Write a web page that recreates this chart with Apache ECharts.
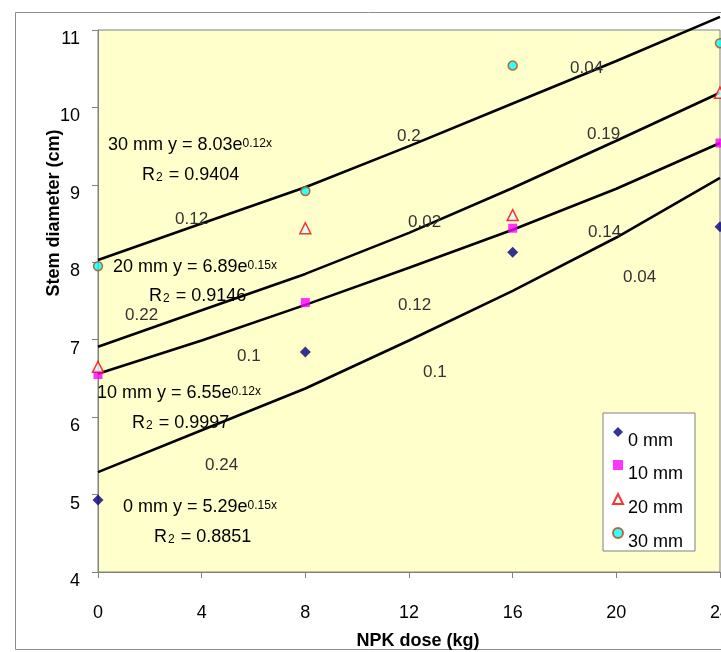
<!DOCTYPE html>
<html>
<head>
<meta charset="utf-8">
<script src="https://cdn.jsdelivr.net/npm/echarts@6/dist/echarts.min.js"></script>
<style>
html, body { margin: 0; padding: 0; background: #fff; }
#main { width: 721px; height: 652px; }
</style>
</head>
<body>
<div id="main"></div>
<script>
// measured points (stem diameter, cm) at each NPK dose
var doses = [0, 8, 16, 24];
var mm0 = [4.93, 6.84, 8.13, 8.46];
var mm10 = [6.55, 7.48, 8.44, 9.54];
var mm20 = [6.65, 8.44, 8.61, 10.19];
var mm30 = [7.95, 8.92, 10.54, 10.83];

// trend lines
var fitX = [0, 4, 8, 12, 16, 20, 24];
var fit0 = [5.29, 5.83, 6.37, 6.99, 7.63, 8.32, 9.09];
var fit10 = [6.56, 6.99, 7.45, 7.93, 8.42, 8.95, 9.54];
var fit20 = [6.91, 7.38, 7.85, 8.38, 8.96, 9.57, 10.19];
var fit30 = [8.03, 8.50, 8.97, 9.50, 10.05, 10.60, 11.17];

var seriesNames = ['0 mm', '10 mm', '20 mm', '30 mm'];
var eqCoef = ['5.29', '6.55', '6.89', '8.03'];
var eqExp = ['0.15x', '0.12x', '0.15x', '0.12x'];
var r2 = ['0.8851', '0.9997', '0.9146', '0.9404'];
var sideLabels = ['0.12', '0.2', '0.04', '0.19', '0.02', '0.14', '0.04', '0.22', '0.1', '0.12', '0.1', '0.24'];

// where the texts sit (pixels)
var eqPos = [[123, 507], [97, 393], [113, 267], [108, 145]];
var r2Pos = [[154, 537], [132, 423], [149, 296], [142, 175]];
var sidePos = [[175, 219], [397, 136], [570, 68], [587, 134], [408, 222], [588, 232],
               [623, 277], [125, 315], [237, 356], [398, 305], [423, 372], [205, 465]];

var font = 'Liberation Sans, Arial, sans-serif';

function pairs(xs, ys) {
  var out = [];
  for (var i = 0; i < xs.length; i++) out.push([xs[i], ys[i]]);
  return out;
}

var chart = echarts.init(document.getElementById('main'), null, { renderer: 'canvas' });

var graphics = [];
graphics.push({
  type: 'rect', z: 0, silent: true,
  shape: { x: 15.5, y: 12.5, width: 720, height: 637 },
  style: { fill: 'none', stroke: '#8c8c8c', lineWidth: 1 }
});
for (var i = 0; i < 4; i++) {
  graphics.push({
    type: 'text', z: 10, x: eqPos[i][0], y: eqPos[i][1],
    style: {
      text: '{t|' + seriesNames[i] + ' y = ' + eqCoef[i] + 'e}{s|' + eqExp[i] + '}',
      verticalAlign: 'middle', align: 'left',
      rich: {
        t: { fontFamily: font, fontSize: 18, fill: '#000', color: '#000' },
        s: { fontFamily: font, fontSize: 12, fill: '#000', color: '#000', padding: [0, 0, 3, 0] }
      }
    }
  });
  graphics.push({
    type: 'text', z: 10, x: r2Pos[i][0], y: r2Pos[i][1],
    style: {
      text: '{t|R}{s|2}{t| = ' + r2[i] + '}',
      verticalAlign: 'middle', align: 'left',
      rich: {
        t: { fontFamily: font, fontSize: 18, fill: '#000', color: '#000' },
        s: { fontFamily: font, fontSize: 12, fill: '#000', color: '#000', padding: [5, 1, 0, 1] }
      }
    }
  });
}
for (var j = 0; j < sideLabels.length; j++) {
  graphics.push({
    type: 'text', z: 10, x: sidePos[j][0], y: sidePos[j][1],
    style: { text: sideLabels[j], font: '17px ' + font, fill: '#333', verticalAlign: 'middle', align: 'left' }
  });
}
graphics.push({
  type: 'text', z: 10, x: 54, y: 213, rotation: Math.PI / 2,
  style: { text: 'Stem diameter (cm)', font: 'bold 18px ' + font, fill: '#000', align: 'center', verticalAlign: 'middle' }
});
graphics.push({
  type: 'text', z: 10, x: 418, y: 641,
  style: { text: 'NPK dose (kg)', font: 'bold 18px ' + font, fill: '#000', align: 'center', verticalAlign: 'middle' }
});

function trend(name, ys) {
  return {
    name: name, type: 'line', data: pairs(fitX, ys), symbol: 'none', clip: false,
    silent: true, z: 2, lineStyle: { color: '#000', width: 2.6 }
  };
}

var option = {
  animation: false,
  backgroundColor: '#fff',
  grid: {
    left: 98, right: 1, top: 30, bottom: 80, show: true, outerBoundsMode: 'none',
    backgroundColor: '#FFFFCC', borderColor: '#808080', borderWidth: 1
  },
  legend: {
    data: seriesNames, orient: 'vertical', left: 603, top: 413,
    backgroundColor: '#fff', borderColor: '#808080', borderWidth: 1,
    padding: [14, 12, 0, 9], itemWidth: 10, itemHeight: 10, itemGap: 10, itemTextGap: 7,
    formatter: '{a|{name}}',
    textStyle: {
      fontFamily: font, fontSize: 18, color: '#000',
      rich: { a: { fontFamily: font, fontSize: 18, color: '#000', padding: [18, 0, 0, 0] } }
    }
  },
  xAxis: {
    type: 'value', min: 0, max: 24, interval: 4,
    axisLine: { show: true, onZero: false, lineStyle: { color: '#808080' } },
    axisTick: { show: true, length: 6, lineStyle: { color: '#808080' } },
    axisLabel: { margin: 32, fontFamily: font, fontSize: 18, color: '#000' },
    splitLine: { show: false }
  },
  yAxis: {
    type: 'value', min: 4, max: 11, interval: 1,
    axisLine: { show: true, lineStyle: { color: '#808080' } },
    axisTick: { show: true, length: 6, lineStyle: { color: '#808080' } },
    axisLabel: { margin: 18, fontFamily: font, fontSize: 18, color: '#000', verticalAlign: 'top' },
    splitLine: { show: false }
  },
  graphic: graphics,
  series: [
    trend('fit 0', fit0), trend('fit 10', fit10), trend('fit 20', fit20), trend('fit 30', fit30),
    {
      name: '0 mm', type: 'scatter', data: pairs(doses, mm0), z: 3,
      symbol: 'diamond', symbolSize: 11, itemStyle: { color: '#000080' }
    },
    {
      name: '10 mm', type: 'scatter', data: pairs(doses, mm10), z: 3,
      symbol: 'rect', symbolSize: 9, itemStyle: { color: '#FF00FF' }
    },
    {
      name: '20 mm', type: 'scatter', data: pairs(doses, mm20), z: 3,
      symbol: 'triangle', symbolSize: 11,
      itemStyle: { color: '#CCFFFF', borderColor: '#FF0000', borderWidth: 1.5 }
    },
    {
      name: '30 mm', type: 'scatter', data: pairs(doses, mm30), z: 3,
      symbol: 'circle', symbolSize: 9,
      itemStyle: { color: '#00FFFF', borderColor: '#C04010', borderWidth: 1.5 }
    }
  ]
};

chart.setOption(option);
</script>
</body>
</html>
